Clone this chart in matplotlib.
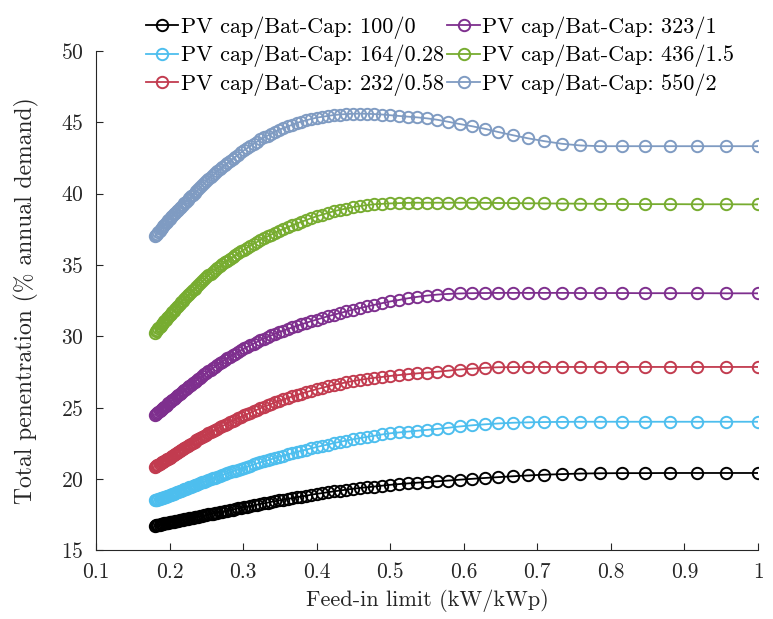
import matplotlib
matplotlib.use("Agg")
from matplotlib import pyplot as plt

plt.rcParams['font.family'] = 'cmr10'
plt.rcParams['axes.formatter.use_mathtext'] = True

# feed-in limit (kW/kWp), ascending
feed_in = [0.1803, 0.1818, 0.1833, 0.1849, 0.1864, 0.1880, 0.1897, 0.1913, 0.1930, 0.1947, 0.1964, 0.1982, 0.2000,
           0.2018, 0.2037, 0.2056, 0.2075, 0.2095, 0.2115, 0.2136, 0.2157, 0.2178, 0.2200, 0.2222, 0.2245,
           0.2268, 0.2292, 0.2316, 0.2340, 0.2366, 0.2391, 0.2418, 0.2444, 0.2472, 0.2500,
           0.2529, 0.2558, 0.2588, 0.2619, 0.2651, 0.2683, 0.2716, 0.2750,
           0.2785, 0.2821, 0.2857, 0.2895, 0.2933, 0.2973,
           0.3014, 0.3056, 0.3099, 0.3143, 0.3188, 0.3235,
           0.3284, 0.3333, 0.3385, 0.3438, 0.3492,
           0.3548, 0.3607, 0.3667, 0.3729,
           0.3793, 0.3860, 0.3929, 0.4000,
           0.4074, 0.4151, 0.4231,
           0.4314, 0.4400, 0.4490,
           0.4583, 0.4681,
           0.4783, 0.4889, 0.5000,
           0.5116, 0.5238,
           0.5366, 0.5500,
           0.5641, 0.5789, 0.5946, 0.6111, 0.6286, 0.6471, 0.6667, 0.6875, 0.7097, 0.7333, 0.7586, 0.7857,
           0.8148, 0.8462, 0.8800, 0.9167, 0.9565, 1.0000]

pen_100_0 = [16.75, 16.77, 16.79, 16.80, 16.82, 16.84, 16.86, 16.88, 16.90, 16.92, 16.93, 16.95, 16.97,
             16.99, 17.01, 17.03, 17.05, 17.07, 17.09, 17.11, 17.14, 17.16, 17.18, 17.21, 17.23,
             17.25, 17.28, 17.30, 17.33, 17.36, 17.38, 17.41, 17.44, 17.47, 17.50,
             17.53, 17.56, 17.59, 17.62, 17.66, 17.69, 17.72, 17.76,
             17.80, 17.83, 17.87, 17.91, 17.95, 17.99,
             18.03, 18.08, 18.12, 18.16, 18.21, 18.26,
             18.30, 18.35, 18.41, 18.46, 18.51,
             18.56, 18.61, 18.67, 18.73,
             18.78, 18.84, 18.91, 18.97,
             19.02, 19.08, 19.14,
             19.20, 19.26, 19.32,
             19.38, 19.43,
             19.48, 19.54, 19.60,
             19.65, 19.70,
             19.75, 19.80,
             19.85, 19.90, 19.96, 20.02, 20.08, 20.14, 20.20, 20.26, 20.31, 20.35, 20.39, 20.41,
             20.42, 20.42, 20.43, 20.43, 20.43, 20.43]

pen_164_028 = [18.51, 18.53, 18.56, 18.59, 18.62, 18.65, 18.68, 18.71, 18.75, 18.78, 18.81, 18.85, 18.88,
               18.92, 18.95, 18.99, 19.03, 19.07, 19.11, 19.15, 19.19, 19.24, 19.28, 19.32, 19.37,
               19.42, 19.46, 19.51, 19.56, 19.61, 19.66, 19.72, 19.77, 19.82, 19.88,
               19.94, 19.99, 20.05, 20.11, 20.17, 20.23, 20.29, 20.35,
               20.41, 20.47, 20.54, 20.60, 20.67, 20.74,
               20.81, 20.88, 20.95, 21.03, 21.10, 21.18,
               21.25, 21.32, 21.40, 21.48, 21.57,
               21.65, 21.73, 21.81, 21.90,
               21.99, 22.07, 22.16, 22.25,
               22.34, 22.42, 22.52,
               22.61, 22.70, 22.79,
               22.87, 22.96,
               23.04, 23.13, 23.21,
               23.27, 23.33,
               23.39, 23.45,
               23.52, 23.60, 23.69, 23.77, 23.84, 23.90, 23.95, 23.98, 24.00, 24.01, 24.02, 24.02,
               24.02, 24.02, 24.02, 24.02, 24.02, 24.02]

pen_232_058 = [20.86, 20.91, 20.96, 21.01, 21.06, 21.11, 21.17, 21.22, 21.27, 21.33, 21.38, 21.44, 21.50,
               21.56, 21.63, 21.69, 21.76, 21.82, 21.89, 21.96, 22.03, 22.11, 22.18, 22.25, 22.33,
               22.41, 22.48, 22.56, 22.63, 22.71, 22.79, 22.87, 22.95, 23.03, 23.12,
               23.20, 23.28, 23.36, 23.44, 23.53, 23.62, 23.71, 23.80,
               23.89, 23.98, 24.07, 24.16, 24.26, 24.36,
               24.46, 24.56, 24.66, 24.76, 24.86, 24.97,
               25.07, 25.17, 25.27, 25.38, 25.48,
               25.58, 25.68, 25.79, 25.89,
               26.00, 26.10, 26.20, 26.30,
               26.40, 26.50, 26.60,
               26.69, 26.78, 26.87,
               26.95, 27.03,
               27.10, 27.16, 27.23,
               27.29, 27.35,
               27.41, 27.47,
               27.53, 27.60, 27.68, 27.74, 27.80, 27.84, 27.85, 27.86, 27.86, 27.86, 27.86, 27.86,
               27.86, 27.86, 27.86, 27.86, 27.86, 27.86]

pen_323_1 = [24.51, 24.58, 24.65, 24.72, 24.78, 24.85, 24.93, 25.00, 25.07, 25.15, 25.22, 25.30, 25.38,
             25.46, 25.54, 25.62, 25.70, 25.79, 25.87, 25.96, 26.05, 26.15, 26.24, 26.33, 26.43,
             26.52, 26.62, 26.71, 26.81, 26.91, 27.01, 27.12, 27.23, 27.34, 27.45,
             27.55, 27.66, 27.77, 27.88, 28.00, 28.11, 28.23, 28.35,
             28.46, 28.57, 28.68, 28.80, 28.91, 29.04,
             29.16, 29.27, 29.38, 29.49, 29.61, 29.74,
             29.85, 29.96, 30.07, 30.19, 30.31,
             30.41, 30.52, 30.63, 30.74,
             30.85, 30.96, 31.07, 31.18,
             31.29, 31.41, 31.52,
             31.63, 31.75, 31.87,
             31.98, 32.10,
             32.21, 32.33, 32.45,
             32.55, 32.67,
             32.77, 32.86,
             32.93, 32.98, 33.01, 33.03, 33.04, 33.05, 33.05, 33.05, 33.05, 33.05, 33.04, 33.04,
             33.04, 33.03, 33.03, 33.03, 33.02, 33.02]

pen_436_15 = [30.27, 30.36, 30.46, 30.56, 30.65, 30.75, 30.86, 30.96, 31.06, 31.17, 31.28, 31.39, 31.50,
              31.60, 31.71, 31.81, 31.92, 32.03, 32.14, 32.26, 32.38, 32.50, 32.62, 32.74, 32.87,
              32.99, 33.11, 33.23, 33.35, 33.48, 33.60, 33.74, 33.87, 34.01, 34.15,
              34.27, 34.39, 34.51, 34.64, 34.77, 34.90, 35.04, 35.18,
              35.30, 35.43, 35.55, 35.68, 35.82, 35.96,
              36.09, 36.22, 36.35, 36.48, 36.61, 36.76,
              36.89, 37.01, 37.14, 37.27, 37.41,
              37.53, 37.65, 37.78, 37.91,
              38.03, 38.16, 38.29, 38.42,
              38.53, 38.65, 38.77,
              38.87, 38.96, 39.06,
              39.13, 39.20,
              39.26, 39.29, 39.32,
              39.34, 39.36,
              39.37, 39.37,
              39.37, 39.37, 39.37, 39.37, 39.36, 39.35, 39.34, 39.33, 39.32, 39.31, 39.30, 39.29,
              39.28, 39.27, 39.27, 39.26, 39.26, 39.25]

pen_550_2 = [37.02, 37.11, 37.21, 37.31, 37.40, 37.50, 37.61, 37.71, 37.81, 37.92, 38.03, 38.14, 38.25,
             38.35, 38.45, 38.55, 38.66, 38.76, 38.87, 38.98, 39.10, 39.21, 39.33, 39.45, 39.57,
             39.69, 39.81, 39.94, 40.07, 40.20, 40.33, 40.47, 40.61, 40.75, 40.90,
             41.03, 41.16, 41.29, 41.42, 41.56, 41.71, 41.85, 42.00,
             42.14, 42.28, 42.43, 42.58, 42.73, 42.89,
             43.05, 43.19, 43.34, 43.49, 43.64, 43.80,
             43.94, 44.07, 44.20, 44.34, 44.48,
             44.60, 44.71, 44.83, 44.96,
             45.06, 45.15, 45.24, 45.33,
             45.39, 45.45, 45.51,
             45.55, 45.58, 45.60,
             45.61, 45.60,
             45.58, 45.55, 45.50,
             45.45, 45.40,
             45.35, 45.28,
             45.18, 45.04, 44.88, 44.73, 44.55, 44.32, 44.10, 43.88, 43.68, 43.50, 43.38, 43.33,
             43.33, 43.33, 43.33, 43.33, 43.33, 43.33]

labels = ['PV cap/Bat-Cap: 100/0', 'PV cap/Bat-Cap: 164/0.28', 'PV cap/Bat-Cap: 232/0.58',
          'PV cap/Bat-Cap: 323/1', 'PV cap/Bat-Cap: 436/1.5', 'PV cap/Bat-Cap: 550/2']
series = [pen_100_0, pen_164_028, pen_232_058, pen_323_1, pen_436_15, pen_550_2]
colors = ['#000000', '#4DBEEE', '#C23B4F', '#7E2F8E', '#77AC30', '#7F9BC2']

xticks = [0.1, 0.2, 0.3, 0.4, 0.5, 0.6, 0.7, 0.8, 0.9, 1.0]
xticklabels = ['0.1', '0.2', '0.3', '0.4', '0.5', '0.6', '0.7', '0.8', '0.9', '1']
yticks = [15, 20, 25, 30, 35, 40, 45, 50]

fig = plt.figure(figsize=(7.73, 6.19), dpi=100)
ax = fig.add_axes([0.1242, 0.1107, 0.8564, 0.8069])

for y, c, lab in zip(series, colors, labels):
    ax.plot(feed_in, y, color=c, lw=1.3, marker='o', ms=8.2, mfc='none', mec=c, mew=1.4, label=lab)

ax.set_xlim(0.1, 1.0)
ax.set_ylim(15, 50)
ax.set_xticks(xticks)
ax.set_xticklabels(xticklabels)
ax.set_yticks(yticks)
ax.tick_params(direction='in', length=5, width=0.8, colors='#262626', labelsize=15.5, pad=9)
for s in ['top', 'right']:
    ax.spines[s].set_visible(False)
for s in ['left', 'bottom']:
    ax.spines[s].set_color('#262626')
    ax.spines[s].set_linewidth(0.8)

ax.set_xlabel('Feed-in limit (kW/kWp)', fontsize=16, color='#262626', labelpad=5)
ax.set_ylabel('Total penentration (% annual demand)', fontsize=17, color='#262626', labelpad=16)

ax.legend(ncol=2, loc='upper center', bbox_to_anchor=(0.52, 1.11), frameon=False,
          fontsize=16, handlelength=1.45, handletextpad=0.12, columnspacing=0.15,
          labelspacing=0.28, numpoints=1)

fig.savefig('out.png', dpi=100)
